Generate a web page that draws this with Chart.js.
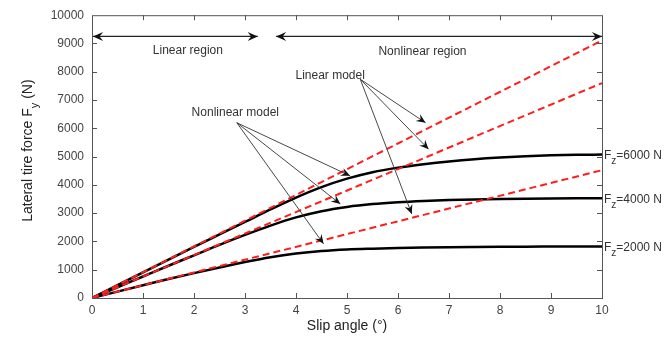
<!DOCTYPE html>
<html>
<head>
<meta charset="utf-8">
<style>
  html, body { margin: 0; padding: 0; background: #fff; }
</style>
<script src="https://cdn.jsdelivr.net/npm/chart.js@4.4.1/dist/chart.umd.min.js"></script>
</head>
<body>
<canvas id="chart" width="666" height="344"></canvas>
<script>
// slip angle (deg) for the nonlinear curves
const angles = [0, 0.5, 1, 1.5, 2, 2.5, 3, 3.5, 4, 4.5, 5, 5.5, 6, 6.5, 7, 7.5, 8, 8.5, 9, 9.5, 10];
// nonlinear model, lateral force (N)
const fy6000 = [0, 455, 910, 1360, 1810, 2250, 2690, 3130, 3550, 3920, 4220, 4450, 4610, 4730, 4830, 4910, 4970, 5015, 5045, 5062, 5070];
const fy4000 = [0, 380, 760, 1140, 1510, 1880, 2230, 2560, 2850, 3070, 3220, 3320, 3385, 3430, 3462, 3485, 3502, 3513, 3520, 3524, 3525];
const fy2000 = [0, 226, 450, 670, 880, 1080, 1270, 1440, 1570, 1660, 1715, 1745, 1768, 1785, 1798, 1806, 1812, 1816, 1818, 1820, 1820];
// linear model (straight lines from origin)
const linAngles = [0, 10];
const lin6000 = [0, 9110];
const lin4000 = [0, 7600];
const lin2000 = [0, 4520];
const loadLabels = ['6000', '4000', '2000'];

const FONT = '"Liberation Sans", Arial, sans-serif';

function pts(xs, ys) {
  return xs.map((x, i) => ({ x: x, y: ys[i] }));
}

function arrow(ctx, x1, y1, x2, y2, size, both) {
  ctx.beginPath();
  ctx.moveTo(x1, y1);
  ctx.lineTo(x2, y2);
  ctx.stroke();
  head(ctx, x1, y1, x2, y2, size);
  if (both) head(ctx, x2, y2, x1, y1, size);
}

function head(ctx, x1, y1, x2, y2, size) {
  const a = Math.atan2(y2 - y1, x2 - x1);
  const w = 0.42;
  ctx.beginPath();
  ctx.moveTo(x2, y2);
  ctx.lineTo(x2 - size * Math.cos(a - w), y2 - size * Math.sin(a - w));
  ctx.lineTo(x2 - size * 0.6 * Math.cos(a), y2 - size * 0.6 * Math.sin(a));
  ctx.lineTo(x2 - size * Math.cos(a + w), y2 - size * Math.sin(a + w));
  ctx.closePath();
  ctx.fill();
}

const decorations = {
  id: 'decorations',
  afterDatasetsDraw(chart) {
    const ctx = chart.ctx;
    const xs = chart.scales.x, ys = chart.scales.y;
    const px = v => xs.getPixelForValue(v);
    const py = v => ys.getPixelForValue(v);
    const a = chart.chartArea;
    ctx.save();

    // box and inward ticks
    ctx.strokeStyle = '#555';
    ctx.lineWidth = 1;
    ctx.strokeRect(a.left + 0.5, a.top + 0.5, a.right - a.left, a.bottom - a.top);
    ctx.beginPath();
    for (let v = 1; v < 10; v++) {
      const x = Math.round(px(v)) + 0.5;
      ctx.moveTo(x, a.bottom); ctx.lineTo(x, a.bottom - 5);
      ctx.moveTo(x, a.top); ctx.lineTo(x, a.top + 5);
    }
    for (let v = 1000; v < 10000; v += 1000) {
      const y = Math.round(py(v)) + 0.5;
      ctx.moveTo(a.left, y); ctx.lineTo(a.left + 5, y);
      ctx.moveTo(a.right, y); ctx.lineTo(a.right - 5, y);
    }
    ctx.stroke();

    // region arrows
    ctx.strokeStyle = '#222';
    ctx.fillStyle = '#111';
    ctx.lineWidth = 1.3;
    arrow(ctx, px(0) + 1, py(9250), px(3.25), py(9250), 11, true);
    arrow(ctx, px(3.61), py(9250), px(10), py(9250), 11, true);

    // model arrows
    ctx.lineWidth = 0.9;
    ctx.strokeStyle = '#333';
    const lm = [5.26, 7736];
    [[6.54, 6197], [6.60, 5260], [6.27, 2972]].forEach(t =>
      arrow(ctx, px(lm[0]), py(lm[1]), px(t[0]), py(t[1]), 10, false));
    const nm = [2.84, 6197];
    [[5.06, 4320], [4.87, 3324], [4.54, 1915]].forEach(t =>
      arrow(ctx, px(nm[0]), py(nm[1]), px(t[0]), py(t[1]), 10, false));

    // texts
    ctx.fillStyle = '#333';
    ctx.font = '12px ' + FONT;
    ctx.textAlign = 'center';
    ctx.textBaseline = 'middle';
    ctx.fillText('Linear region', px(1.88), py(8760));
    ctx.fillText('Nonlinear region', px(6.48), py(8720));
    ctx.fillText('Linear model', px(4.67), py(7875));
    ctx.fillText('Nonlinear model', px(2.81), py(6549));

    // load labels on the right
    const ends = [fy6000, fy4000, fy2000].map(s => s[s.length - 1]);
    ctx.textAlign = 'left';
    ends.forEach((v, i) => {
      const x = a.right + 2, y = py(v) + 1;
      ctx.font = '12px ' + FONT;
      ctx.fillText('F', x, y);
      const wF = ctx.measureText('F').width;
      ctx.font = '10px ' + FONT;
      ctx.fillText('z', x + wF, y + 6);
      const wz = ctx.measureText('z').width;
      ctx.font = '12px ' + FONT;
      ctx.fillText('=' + loadLabels[i] + ' N', x + wF + wz, y);
    });

    // axis titles
    ctx.fillStyle = '#222';
    ctx.font = '14px ' + FONT;
    ctx.textAlign = 'center';
    ctx.fillText('Slip angle (°)', (a.left + a.right) / 2, 326);

    ctx.translate(28, (a.top + a.bottom) / 2 - 6);
    ctx.rotate(-Math.PI / 2);
    const p1 = 'Lateral tire force F', p2 = 'y', p3 = ' (N)';
    ctx.font = '14px ' + FONT;
    const w1 = ctx.measureText(p1).width, w3 = ctx.measureText(p3).width;
    ctx.font = '11px ' + FONT;
    const w2 = ctx.measureText(p2).width;
    let x0 = -(w1 + w2 + w3) / 2;
    ctx.textAlign = 'left';
    ctx.font = '14px ' + FONT;
    ctx.fillText(p1, x0, 0);
    ctx.font = '11px ' + FONT;
    ctx.fillText(p2, x0 + w1, 7);
    ctx.font = '14px ' + FONT;
    ctx.fillText(p3, x0 + w1 + w2, 0);
    ctx.restore();
  }
};

const red = 'rgba(255, 30, 30, 1)';
const dashed = { borderColor: red, borderWidth: 2, borderDash: [7, 4], pointRadius: 0, fill: false };
const solid = { borderColor: '#000', borderWidth: 2.5, pointRadius: 0, fill: false, cubicInterpolationMode: 'monotone' };

new Chart(document.getElementById('chart'), {
  type: 'line',
  data: {
    datasets: [
      Object.assign({ label: 'Linear 6000', data: pts(linAngles, lin6000) }, dashed),
      Object.assign({ label: 'Linear 4000', data: pts(linAngles, lin4000) }, dashed),
      Object.assign({ label: 'Linear 2000', data: pts(linAngles, lin2000) }, dashed),
      Object.assign({ label: 'Nonlinear 6000', data: pts(angles, fy6000) }, solid),
      Object.assign({ label: 'Nonlinear 4000', data: pts(angles, fy4000) }, solid),
      Object.assign({ label: 'Nonlinear 2000', data: pts(angles, fy2000) }, solid)
    ]
  },
  options: {
    responsive: false,
    animation: false,
    layout: { padding: { top: 14, right: 64, bottom: 0, left: 0 } },
    plugins: { legend: { display: false }, tooltip: { enabled: false } },
    scales: {
      x: {
        type: 'linear',
        min: 0, max: 10,
        grid: { display: false, drawTicks: false },
        border: { display: false },
        ticks: { stepSize: 1, color: '#444', font: { family: FONT, size: 12 }, padding: 5, maxRotation: 0 },
        afterFit: s => { s.height = 46; }
      },
      y: {
        min: 0, max: 10000,
        grid: { display: false, drawTicks: false },
        border: { display: false },
        ticks: { stepSize: 1000, color: '#444', font: { family: FONT, size: 12 }, padding: 8, callback: v => String(v) },
        afterFit: s => { s.width = 92; }
      }
    }
  },
  plugins: [decorations]
});
</script>
</body>
</html>
